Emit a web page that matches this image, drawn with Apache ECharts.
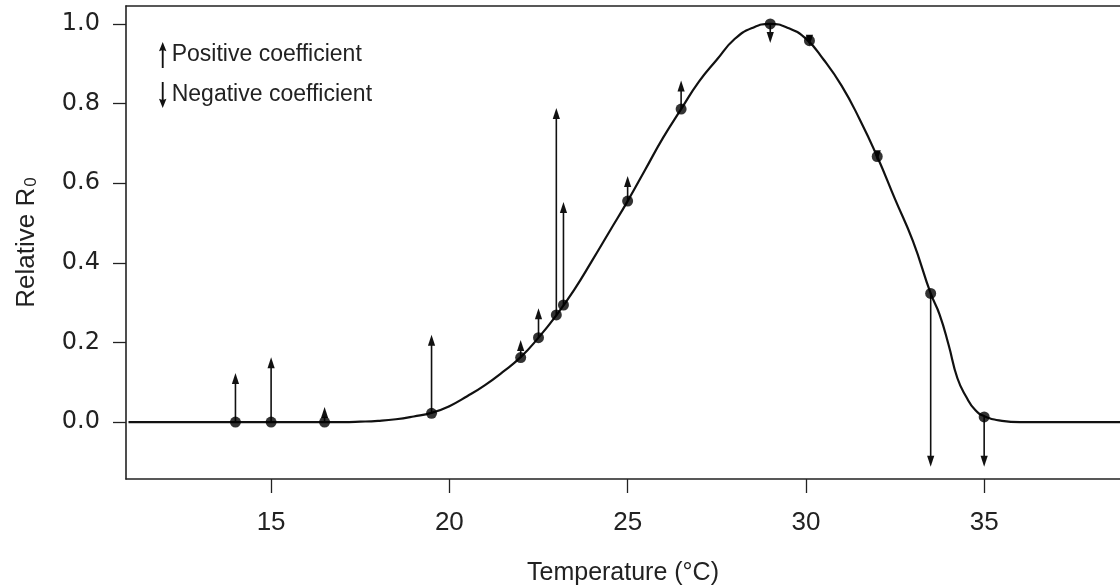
<!DOCTYPE html>
<html>
<head>
<meta charset="utf-8">
<title>Relative R0 vs temperature</title>
<script src="https://cdn.jsdelivr.net/npm/echarts@6.0.0/dist/echarts.min.js"></script>
<style>
html, body { margin: 0; padding: 0; background: #fff; }
#chart { width: 1120px; height: 588px; }
</style>
</head>
<body>
<div id="chart"></div>
<script>
// fitted relative R0 curve
var curveTemp = [11, 17, 17.5, 18, 18.5, 19, 19.5, 20, 20.5, 21, 21.5, 22, 22.5, 23, 23.5, 24, 24.5, 25, 25.5, 26,
	26.5, 27, 27.5, 28, 28.5, 29, 29.5, 30, 30.5, 31, 31.5, 32, 32.5, 33, 33.5, 33.75, 34, 34.25, 34.5, 34.75,
	35, 35.5, 36, 39];
var curveR0 = [0, 0, 0.001, 0.003, 0.007, 0.014, 0.023, 0.04, 0.065, 0.093, 0.126, 0.163, 0.212, 0.268, 0.332, 0.405, 0.48, 0.555, 0.635, 0.715,
	0.786, 0.855, 0.91, 0.962, 0.99, 1.0, 0.99, 0.963, 0.91, 0.845, 0.762, 0.667, 0.56, 0.455, 0.323, 0.27, 0.195, 0.11, 0.063, 0.03,
	0.015, 0.003, 0, 0];

// observed points and where the coefficient arrow ends
var obsTemp = [14, 15, 16.5, 19.5, 22, 22.5, 23, 23.2, 25, 26.5, 29, 30.1, 32, 33.5, 35];
var obsR0 = [0, 0, 0, 0.022, 0.162, 0.212, 0.269, 0.294, 0.555, 0.786, 1.0, 0.958, 0.667, 0.323, 0.013];
var arrowEnd = [0.123, 0.163, 0.038, 0.219, 0.206, 0.286, 0.789, 0.553, 0.618, 0.858, 0.952, 0.945, 0.655, -0.112, -0.112];

var xTicks = [15, 20, 25, 30, 35];
var yTicks = [0, 0.2, 0.4, 0.6, 0.8, 1.0];

var curveData = [];
for (var i = 0; i < curveTemp.length; i++) {
	curveData.push([curveTemp[i], curveR0[i]]);
}
var pointData = [];
var posData = [];
var negData = [];
for (var j = 0; j < obsTemp.length; j++) {
	pointData.push([obsTemp[j], obsR0[j]]);
	if (arrowEnd[j] >= obsR0[j]) {
		posData.push([obsTemp[j], obsR0[j], arrowEnd[j]]);
	} else {
		negData.push([obsTemp[j], obsR0[j], arrowEnd[j]]);
	}
}

function renderArrow(params, api) {
	var p0 = api.coord([api.value(0), api.value(1)]);
	var p1 = api.coord([api.value(0), api.value(2)]);
	var dir = p1[1] < p0[1] ? -1 : 1;
	var headLen = 11, half = 3.6;
	var base = p1[1] - dir * headLen;
	return {
		type : 'group',
		children : [ {
			type : 'line',
			shape : { x1 : p0[0], y1 : p0[1], x2 : p1[0], y2 : base + dir * 2 },
			style : { stroke : '#111', lineWidth : 1.6 }
		}, {
			type : 'polygon',
			shape : { points : [ [ p1[0], p1[1] ], [ p1[0] - half, base ], [ p1[0] + half, base ] ] },
			style : { fill : '#111' }
		} ]
	};
}

var upIcon = 'path://M4,0 L8,10 L5,9 L5,28 L3,28 L3,9 L0,10 Z';
var downIcon = 'path://M3,0 L5,0 L5,19 L8,18 L4,28 L0,18 L3,19 Z';
var frameLine = { show : true, onZero : false, lineStyle : { color : '#222', width : 1.6 } };

var chart = echarts.init(document.getElementById('chart'));
chart.setOption({
	animation : false,
	textStyle : { fontFamily : '"Liberation Sans", Arial, sans-serif' },
	grid : { left : 126, top : 6, right : 0, bottom : 109, outerBoundsMode : 'none' },
	legend : {
		orient : 'vertical',
		left : 159, top : 42,
		itemWidth : 8, itemHeight : 26,
		itemGap : 14,
		padding : 0,
		selectedMode : false,
		textStyle : { fontSize : 23, color : '#222' },
		data : [ { name : 'Positive coefficient', icon : upIcon }, { name : 'Negative coefficient', icon : downIcon } ]
	},
	xAxis : [ {
		type : 'value',
		min : 10.93, max : 38.81,
		name : 'Temperature (°C)',
		nameLocation : 'middle',
		nameGap : 82,
		nameTextStyle : { fontSize : 25, color : '#222' },
		axisLine : frameLine,
		splitLine : { show : false },
		axisTick : { show : true, length : 14, customValues : xTicks, lineStyle : { color : '#222', width : 1.3 } },
		axisLabel : { customValues : xTicks, margin : 31, fontSize : 26, color : '#222' }
	}, {
		type : 'value',
		position : 'top',
		min : 10.93, max : 38.81,
		axisLine : frameLine,
		axisTick : { show : false },
		axisLabel : { show : false },
		splitLine : { show : false }
	} ],
	yAxis : {
		type : 'value',
		min : -0.143, max : 1.045,
		name : '{a|Relative R}{sub|0}',
		nameLocation : 'middle',
		nameGap : 86,
		nameRotate : 90,
		nameTextStyle : {
			rich : {
				a : { fontSize : 26, color : '#222' },
				sub : { fontSize : 17, color : '#222', padding : [ 10, 0, 0, 1 ] }
			}
		},
		axisLine : frameLine,
		splitLine : { show : false },
		axisTick : { show : true, length : 13, customValues : yTicks, lineStyle : { color : '#222', width : 1.3 } },
		axisLabel : {
			customValues : yTicks, margin : 26,
			fontFamily : '"DejaVu Sans", sans-serif', fontSize : 24, color : '#222',
			formatter : function(v) { return v.toFixed(1); }
		}
	},
	series : [ {
		name : 'curve',
		type : 'line',
		data : curveData,
		showSymbol : false,
		smooth : 0.5,
		lineStyle : { color : '#111', width : 2.2 },
		z : 2
	}, {
		name : 'points',
		type : 'scatter',
		data : pointData,
		symbol : 'circle',
		symbolSize : 11,
		itemStyle : { color : '#000' },
		z : 4
	}, {
		name : 'Positive coefficient',
		type : 'custom',
		renderItem : renderArrow,
		data : posData,
		encode : { x : 0, y : [ 1, 2 ] },
		itemStyle : { color : '#111' },
		z : 3
	}, {
		name : 'Negative coefficient',
		type : 'custom',
		renderItem : renderArrow,
		data : negData,
		encode : { x : 0, y : [ 1, 2 ] },
		itemStyle : { color : '#111' },
		z : 3
	} ]
});
</script>
</body>
</html>
